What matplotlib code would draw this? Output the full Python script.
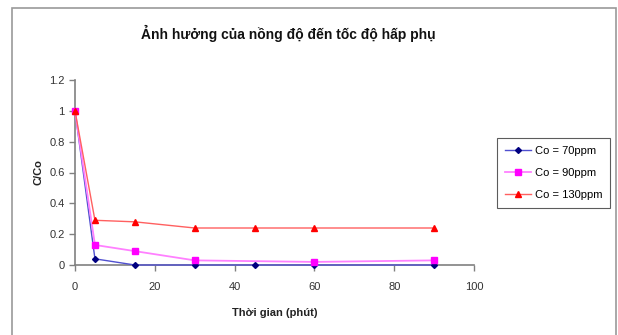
import matplotlib
matplotlib.use("Agg")
import matplotlib.pyplot as plt
from matplotlib.patches import Rectangle

plt.rcParams['font.family'] = ['Liberation Sans', 'DejaVu Sans']

# thoi gian (phut)
t = [0, 5, 15, 30, 45, 60, 90]
t_90 = [0, 5, 15, 30, 60, 90]

c70 = [1.0, 0.04, 0.0, 0.0, 0.0, 0.0, 0.0]
c90 = [1.0, 0.13, 0.09, 0.03, 0.02, 0.03]
c130 = [1.0, 0.29, 0.28, 0.24, 0.24, 0.24, 0.24]

labels = ['Co = 70ppm', 'Co = 90ppm', 'Co = 130ppm']

fig = plt.figure(figsize=(6.18, 3.35), dpi=100)

# khung ngoai
fig.patches.append(Rectangle((12 / 618, -0.05), 604 / 618, 1.05 - 8 / 335,
                             transform=fig.transFigure, fill=False,
                             edgecolor='#9a9a9a', linewidth=1.2))

ax = fig.add_axes([75 / 618, 70 / 335, 399 / 618, 185 / 335])

ax.plot(t, c70, color='#5050d0', lw=1, marker='D', ms=3,
        mfc='#000080', mec='#000080', label=labels[0], clip_on=False, zorder=3)
ax.plot(t_90, c90, color='#ff80ff', lw=1.3, marker='s', ms=4.5,
        mfc='#ff00ff', mec='#ff00ff', label=labels[1], clip_on=False, zorder=3)
ax.plot(t, c130, color='#ff6060', lw=1, marker='^', ms=5,
        mfc='#ff0000', mec='#ff0000', label=labels[2], clip_on=False, zorder=3)

ax.set_xlim(0, 100)
ax.set_ylim(0, 1.2)
ax.set_xticks([0, 20, 40, 60, 80, 100])
ax.set_yticks([0, 0.2, 0.4, 0.6, 0.8, 1.0, 1.2])
ax.set_yticklabels(['0', '0.2', '0.4', '0.6', '0.8', '1', '1.2'])

for s in ['top', 'right']:
    ax.spines[s].set_visible(False)
for s in ['left', 'bottom']:
    ax.spines[s].set_color('#808080')
    ax.spines[s].set_linewidth(1.2)
ax.tick_params(colors='#808080', labelcolor='#333333', labelsize=8,
               length=4, width=1)
ax.tick_params(axis='x', pad=8)

ax.set_xlabel('Thời gian (phút)', fontsize=8, fontweight='bold',
              color='#222222', labelpad=12)
ax.set_ylabel('C/Co', fontsize=8, fontweight='bold', color='#222222',
              labelpad=4)

fig.text(288 / 618, 1 - 33 / 335, 'Ảnh hưởng của nồng độ đến tốc độ hấp phụ',
         ha='center', va='center', fontsize=10, fontweight='bold',
         color='#111111')

leg = ax.legend(loc='upper left', bbox_to_anchor=(497 / 618, 1 - 138 / 335),
                bbox_transform=fig.transFigure, fontsize=8, frameon=True,
                fancybox=False, borderpad=0.7, labelspacing=1.1,
                handlelength=2.4, handletextpad=0.3, borderaxespad=0)
leg.get_frame().set_edgecolor('#333333')
leg.get_frame().set_linewidth(0.8)

fig.savefig('out.png', dpi=100)
